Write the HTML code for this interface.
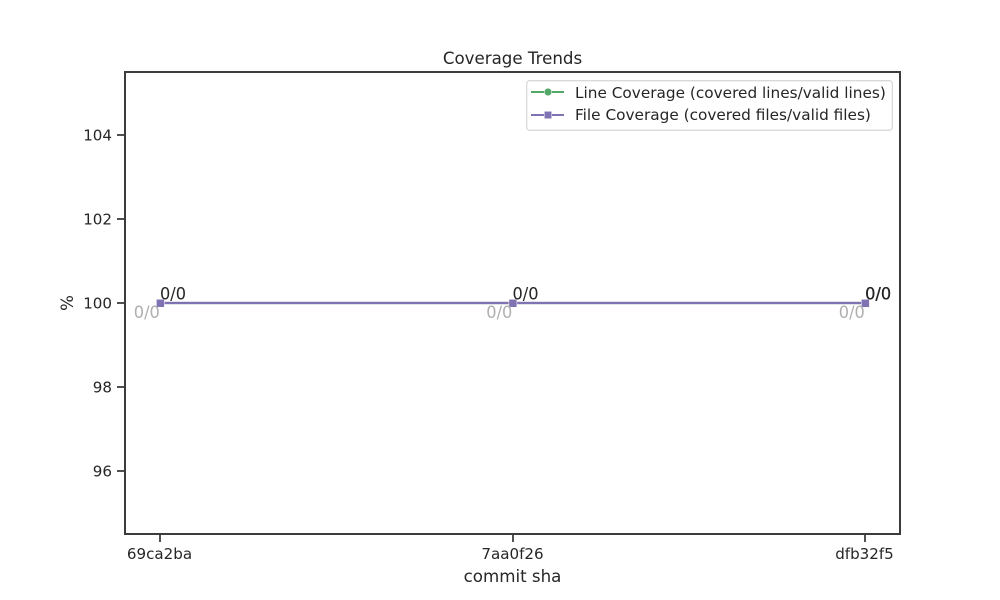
<!DOCTYPE html>
<html>
<head>
<meta charset="utf-8">
<title>Coverage Trends</title>
<style>
html,body{margin:0;padding:0;background:#fff;}
svg{display:block;}
text{font-family:"DejaVu Sans","Liberation Sans",sans-serif;fill:#262626;}
</style>
</head>
<body>
<svg id="chart" xmlns="http://www.w3.org/2000/svg" width="1000" height="600" viewBox="0 0 1000 600">
  <rect x="0" y="0" width="1000" height="600" fill="#ffffff"/>
  <text x="512.5" y="64" font-size="16.67" text-anchor="middle">Coverage Trends</text>
  <g id="marks"></g>
  <rect x="125" y="72" width="775" height="462" fill="none" stroke="#3c3c3c" stroke-width="2"/>
  <g id="ticks"></g>
  <text x="512.5" y="582" font-size="16.67" text-anchor="middle">commit sha</text>
  <text transform="translate(73,303) rotate(-90)" font-size="16.67" text-anchor="middle">%</text>
  <g>
    <rect x="526.7" y="80.7" width="365.6" height="49.6" rx="3" ry="3" fill="#ffffff" fill-opacity="0.8" stroke="#d9d9d9" stroke-width="1.3"/>
    <g>
      <line x1="531" y1="92" x2="564" y2="92" stroke="#55A868" stroke-width="2"/>
      <circle cx="548" cy="92" r="3.8" fill="#55A868" stroke="#ffffff" stroke-width="0.5"/>
      <text x="575" y="98" font-size="15.3">Line Coverage (covered lines/valid lines)</text>
    </g>
    <g>
      <line x1="531" y1="115" x2="564" y2="115" stroke="#8172B3" stroke-width="2"/>
      <rect x="544.3" y="111.3" width="7.4" height="7.4" fill="#8172B3" stroke="#ffffff" stroke-width="0.5"/>
      <text x="575" y="120" font-size="15.3">File Coverage (covered files/valid files)</text>
    </g>
  </g>
</svg>
<script>
const commits = ["69ca2ba", "7aa0f26", "dfb32f5"];
const lineCoverage = [100, 100, 100];
const fileCoverage = [100, 100, 100];
const lineLabels = ["0/0", "0/0", "0/0"];
const fileLabels = ["0/0", "0/0", "0/0"];
const yTicks = [96, 98, 100, 102, 104];

const NS = "http://www.w3.org/2000/svg";
const marks = document.getElementById("marks");
const ticks = document.getElementById("ticks");

function xScale(i) {
  return 160.4 + (865.4 - 160.4) * i / (commits.length - 1);
}
function yScale(v) {
  return 303 - (v - 100) * 42;
}
function make(tag, attrs, parent) {
  const el = document.createElementNS(NS, tag);
  for (const k in attrs) el.setAttribute(k, attrs[k]);
  parent.appendChild(el);
  return el;
}
function pathFor(values) {
  return values.map(function (v, i) {
    return (i ? "L" : "M") + xScale(i) + " " + yScale(v);
  }).join(" ");
}

yTicks.forEach(function (t) {
  const tick = make("line", {x1: 117, x2: 125, y1: yScale(t), y2: yScale(t), stroke: "#3c3c3c", "stroke-width": 1.8}, ticks);
  
  
  const label = make("text", {x: 112, y: yScale(t) + 5.6, "font-size": 15.1, "text-anchor": "end"}, ticks);
  
  
  label.textContent = String(t);
});

commits.forEach(function (c, i) {
  const tickX = Math.round(xScale(i));
  const tick = make("line", {x1: tickX, x2: tickX, y1: 534, y2: 542, stroke: "#3c3c3c", "stroke-width": 1.8}, ticks);
  
  
  const label = make("text", {x: tickX - 0.5, y: 559, "font-size": 15.1, "text-anchor": "middle"}, ticks);
  
  
  label.textContent = c;
});

const greenLine = make("path", {d: pathFor(lineCoverage), fill: "none", stroke: "#55A868", "stroke-width": 2.2}, marks);



lineCoverage.forEach(function (v, i) {
  const dot = make("circle", {cx: xScale(i), cy: yScale(v), r: 3.5, fill: "#55A868"}, marks);
  
  
});

const purpleLine = make("path", {d: pathFor(fileCoverage), fill: "none", stroke: "#8172B3", "stroke-width": 2.2}, marks);



fileCoverage.forEach(function (v, i) {
  const square = make("rect", {x: xScale(i) - 4, y: yScale(v) - 3.7, width: 8, height: 8, fill: "#8172B3", stroke: "#ffffff", "stroke-width": 0.5}, marks);
  
  
});

lineLabels.forEach(function (text, i) {
  const label = make("text", {x: xScale(i) - 0.4, y: yScale(lineCoverage[i]) - 3.5, "font-size": 16.67, textLength: 26, lengthAdjust: "spacingAndGlyphs"}, marks);
  
  
  label.textContent = text;
});

fileLabels.forEach(function (text, i) {
  const label = make("text", {x: xScale(i) - 26.6, y: yScale(fileCoverage[i]) + 15, "font-size": 16.67, textLength: 26, lengthAdjust: "spacingAndGlyphs"}, marks);
  label.setAttribute('style', 'fill:#b0b0b0');
  
  
  label.textContent = text;
});

const latestIndex = commits.length - 1;
const latestLabel = make("text", {x: xScale(latestIndex) - 0.1, y: yScale(lineCoverage[latestIndex]) - 3.5, "font-size": 16.67, textLength: 26, lengthAdjust: "spacingAndGlyphs"}, marks);


latestLabel.textContent = lineLabels[latestIndex];
</script>
</body>
</html>
